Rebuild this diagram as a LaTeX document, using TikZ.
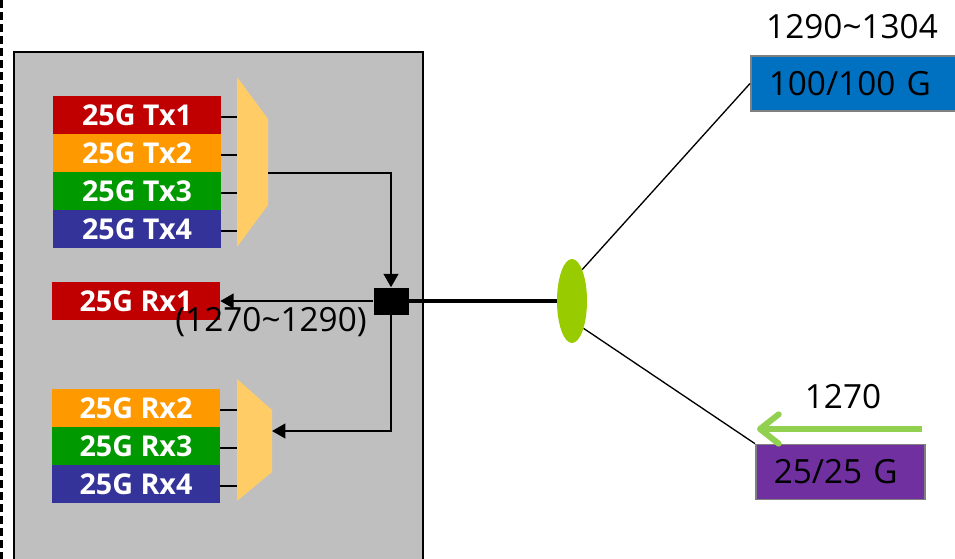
\documentclass[tikz,border=0pt]{standalone}
\usepackage{fontspec}
\setmainfont{Open Sans}
\usetikzlibrary{arrows.meta,shapes.geometric}
\definecolor{cRed}{HTML}{C00000}
\definecolor{cOrange}{HTML}{FF9900}
\definecolor{cGreen}{HTML}{009900}
\definecolor{cBlue}{HTML}{333399}
\definecolor{cMux}{HTML}{FFCC66}
\definecolor{cGray}{HTML}{BFBFBF}
\definecolor{cLime}{HTML}{99CC00}
\definecolor{cArrow}{HTML}{92D050}
\definecolor{cBh}{HTML}{0070C0}
\definecolor{cBq}{HTML}{7030A0}
\begin{document}
\begin{tikzpicture}[x=0.75pt,y=-0.75pt,
  lane/.style={minimum width=168*0.75pt, minimum height=38*0.75pt, inner sep=0pt, text=white, font=\fontsize{21.5}{24}\selectfont\bfseries},
  mux/.style={fill=cMux, draw=none},
  wire/.style={line width=1.5pt},
  arr/.style={wire, -{Triangle[length=10pt,width=11pt]}},
  lbl/.style={font=\fontsize{25}{28}\selectfont, inner sep=0pt},
  link/.style={line width=1pt},
  rate/.style={draw=gray, line width=1.2pt, inner xsep=13.5pt, inner ysep=0pt, align=left, minimum height=55*0.75pt, font=\fontsize{25}{28}\selectfont, anchor=west}
]
\useasboundingbox (0,0) rectangle (955,559);
\fill[white] (0,0) rectangle (955,559);
\draw[line width=1.5pt, dash pattern=on 6pt off 3pt] (1.5,0) -- (1.5,559);
\draw[fill=cGray, line width=1.2pt] (14,52) rectangle (423,575);

% Tx lanes
\node[lane, fill=cRed] (tx1) at (137,115) {25G Tx1};
\node[lane, fill=cOrange] (tx2) at (137,153) {25G Tx2};
\node[lane, fill=cGreen] (tx3) at (137,191) {25G Tx3};
\node[lane, fill=cBlue] (tx4) at (137,229) {25G Tx4};
\fill[mux] (237,77) coordinate (txmuxL) -- (268,119) -- (268,205) -- (237,247) -- cycle;
\coordinate (txout) at (268,173);
\foreach \n in {tx1,tx2,tx3,tx4}{
  \draw[wire] ([yshift=-1.5pt]\n.east) -- ([yshift=-1.5pt]\n.east -| txmuxL);
}

% Rx lanes
\node[lane, fill=cRed] (rx1) at (136,301) {25G Rx1};
\node[lane, fill=cOrange] (rx2) at (136,408) {25G Rx2};
\node[lane, fill=cGreen] (rx3) at (136,446) {25G Rx3};
\node[lane, fill=cBlue] (rx4) at (136,484) {25G Rx4};
\fill[mux] (237,379) coordinate (rxmuxL) -- (272,410) -- (272,472) -- (237,501) -- cycle;
\coordinate (rxout) at (272,431);
\foreach \n in {rx2,rx3,rx4}{
  \draw[wire] ([yshift=-1.5pt]\n.east) -- ([yshift=-1.5pt]\n.east -| rxmuxL);
}

% splitter square
\node[fill=black, minimum width=35*0.75pt, minimum height=27*0.75pt, inner sep=0pt] (sq) at (391,301) {};
\draw[arr] (txout) -| (sq.north);
\draw[arr] (sq.west) -- (sq.west -| rx1.east);
\draw[arr] (sq.south) |- (rxout);
\node[lbl] (rng) at (271,322) {(1270\char`\~1290)};

% fiber
\node[ellipse, fill=cLime, minimum width=30*0.75pt, minimum height=84*0.75pt, inner sep=0pt] (ell) at (572,301) {};
\draw[line width=3.2pt] (sq.east) -- (ell.west);

% remote ends
\node[rate, fill=cBh, text width=129pt] (bh) at (750,83.5) {100/100 G};
\node[lbl] (bhl) at (852,27) {1290\char`\~1304};
\node[rate, fill=cBq, text width=99.75pt] (bq) at (755,472) {25/25 G};
\node[lbl] (bql) at (843,397) {1270};
\draw[link] (ell.72) -- (bh.west);
\draw[link] (ell.-67) -- (bq.north west);

\coordinate (gs) at (922,429);
\coordinate (ge) at (757,429);
\draw[cArrow, line width=4.5pt, -{Straight Barb[length=14pt,width=22pt,round]}] (gs) -- (ge);
\end{tikzpicture}
\end{document}
